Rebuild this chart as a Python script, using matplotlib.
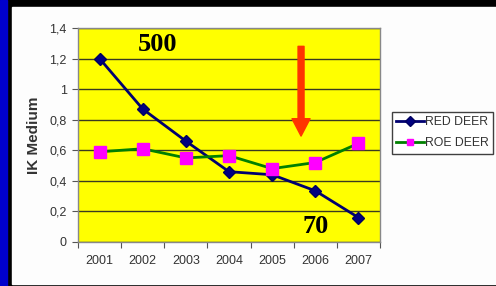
import matplotlib.pyplot as plt
from matplotlib.patches import Rectangle, FancyArrowPatch

plt.rcParams['font.family'] = ['Liberation Sans', 'DejaVu Sans']

years = ['2001', '2002', '2003', '2004', '2005', '2006', '2007']
red_deer = [1.20, 0.87, 0.66, 0.46, 0.44, 0.335, 0.16]
roe_deer = [0.59, 0.61, 0.55, 0.565, 0.48, 0.52, 0.645]
y_ticks = [0, 0.2, 0.4, 0.6, 0.8, 1.0, 1.2, 1.4]
y_labels = ['0', '0,2', '0,4', '0,6', '0,8', '1', '1,2', '1,4']

W, H = 496, 286
fig = plt.figure(figsize=(W / 100, H / 100), dpi=100, facecolor='black')

# slide background: blue strip, black frame, white panel
fig.add_artist(Rectangle((0, 0), 7 / W, 1, transform=fig.transFigure,
                         color='#0000CC', zorder=0))
fig.add_artist(Rectangle((12 / W, 2 / H), 1, (284 - 7) / H, transform=fig.transFigure,
                         color='#FDFDFD', zorder=0))

ax = fig.add_axes([78 / W, (H - 242) / H, 302 / W, 214 / H])
ax.set_facecolor('#FFFF00')

x = list(range(len(years)))
ax.plot(x, red_deer, color='#000070', lw=2, marker='D', markersize=6.5,
        markerfacecolor='#000080', markeredgecolor='#000060', label='RED DEER', zorder=3)
ax.plot(x, roe_deer, color='#008000', lw=2, marker='s', markersize=9,
        markerfacecolor='#FF00FF', markeredgecolor='#FF00FF', label='ROE DEER', zorder=4)

ax.set_xlim(-0.5, len(years) - 0.5)
ax.set_ylim(0, 1.4)
ax.set_yticks(y_ticks)
ax.set_yticklabels(y_labels)
ax.set_xticks([i - 0.5 for i in range(len(years) + 1)])
ax.set_xticklabels([])
ax.set_xticks(x, minor=True)
ax.set_xticklabels(years, minor=True)
ax.tick_params(axis='x', which='minor', length=0, pad=9, labelsize=9, labelcolor='#333333')
ax.tick_params(axis='x', which='major', length=4, color='#555555')
ax.tick_params(axis='y', length=4, color='#555555', labelsize=9, labelcolor='#333333', pad=4)
ax.yaxis.grid(True, color='#3a3a20', lw=1)
ax.set_axisbelow(True)
for s in ax.spines.values():
    s.set_color('#888888')
    s.set_linewidth(1)

ax.set_ylabel('IK Medium', fontsize=11, fontweight='bold', color='#333333', labelpad=6)

ax.text(1.35, 1.29, '500', fontsize=19, fontweight='bold', family='Liberation Serif',
        ha='center', va='center')
ax.text(5.0, 0.10, '70', fontsize=19, fontweight='bold', family='Liberation Serif',
        ha='center', va='center')

arrow = FancyArrowPatch((4.67, 1.28), (4.67, 0.693),
                        arrowstyle='simple,head_width=13,head_length=12.5,tail_width=4.3',
                        mutation_scale=1, color='#FF3300', shrinkA=0, shrinkB=0, zorder=5)
ax.add_patch(arrow)

leg = fig.legend(loc='upper left', bbox_to_anchor=(392 / W, 1 - 112 / H),
                 fontsize=8.8, frameon=True, fancybox=False, edgecolor='#404040',
                 facecolor='white', framealpha=1, handlelength=2.3, handletextpad=0.05,
                 borderpad=0.35, labelspacing=0.75, borderaxespad=0)
leg.get_frame().set_linewidth(1)
for t in leg.get_texts():
    t.set_color('#333333')
for h in leg.legend_handles:
    h.set_markersize(5)

fig.savefig('out.png', dpi=100, facecolor='black')
